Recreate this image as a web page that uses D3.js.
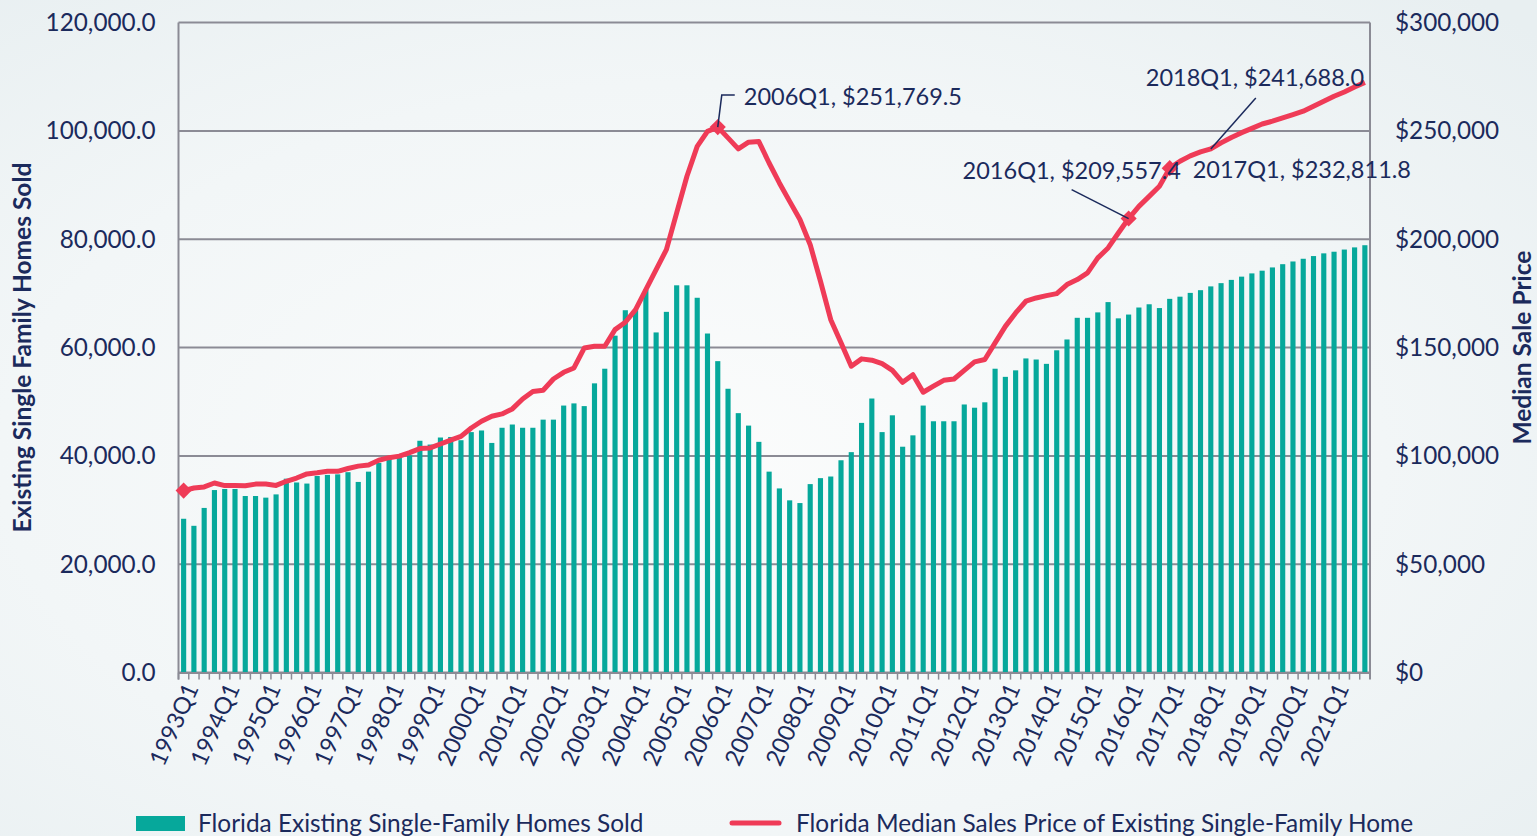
<!DOCTYPE html>
<html>
<head>
<meta charset="utf-8">
<script src="https://cdn.jsdelivr.net/npm/d3@7"></script>
<style>
  html, body { margin: 0; padding: 0; background: #f4f7f8; }
  svg { display: block; }
</style>
</head>
<body>
<div id="chart"></div>
<script>
"use strict";

// quarterly categories 1993Q1 .. 2021Q4
const years = d3.range(1993, 2022);
const quarters = years.flatMap(y => ["Q1", "Q2", "Q3", "Q4"].map(q => `${y}${q}`));

// Florida existing single-family homes sold (units)
const homesSold = [
  28400, 27100, 30400, 33700, 33900, 33900, 32600, 32600, 32300, 32900, 35800, 35100,
  34900, 36300, 36500, 36600, 37000, 35200, 37100, 38700, 39800, 39900, 40100, 42800,
  42100, 43400, 43500, 42900, 44400, 44700, 42400, 45200, 45800, 45200, 45200, 46700,
  46700, 49300, 49700, 49200, 53400, 56100, 62200, 66900, 67100, 70700, 62800, 66600,
  71500, 71500, 69200, 62600, 57500, 52400, 47900, 45600, 42600, 37100, 34000, 31800,
  31300, 34800, 35900, 36200, 39200, 40700, 46100, 50600, 44400, 47500, 41700, 43800,
  49300, 46400, 46400, 46400, 49500, 48900, 49900, 56100, 54600, 55800, 58000, 57800,
  57000, 59500, 61500, 65500, 65500, 66500, 68400, 65400, 66100, 67400, 68000, 67300,
  69000, 69400, 70100, 70600, 71300, 71900, 72500, 73100, 73700, 74200, 74800, 75400,
  75900, 76400, 76900, 77400, 77700, 78100, 78500, 78900
];

// Florida median sales price of existing single-family home ($)
const medianPrice = [
  84000, 85200, 85700, 87500, 86300, 86300, 86200, 87000, 87000, 86400, 88300, 89800,
  91700, 92200, 92900, 92900, 94200, 95300, 95800, 98000, 99200, 99900, 101500, 103400,
  103700, 105500, 107300, 109000, 112900, 116000, 118300, 119400, 121700, 126300, 129700, 130300,
  135500, 138600, 140600, 149800, 150600, 150600, 158300, 161700, 167500, 176800, 186000, 195200,
  212200, 229100, 242900, 249800, 251769.5, 246800, 241700, 244800, 245100, 235200, 226000, 217500,
  209100, 197500, 180600, 162900, 152200, 141400, 144800, 144200, 142600, 139500, 134000, 137500,
  129400, 132200, 134900, 135500, 139500, 143400, 144500, 152200, 159800, 166000, 171400, 172900,
  174000, 174900, 179100, 181400, 184500, 191400, 196000, 202900, 209557.4, 215200, 219800, 224500,
  232811.8, 236000, 238500, 240300, 241688.0, 244500, 247000, 249200, 251200, 253200, 254500, 256000,
  257500, 259100, 261400, 263700, 266000, 268000, 270300, 272400
];

const leftTicks = [0, 20000, 40000, 60000, 80000, 100000, 120000];
const rightTicks = [0, 50000, 100000, 150000, 200000, 250000, 300000];
const markedQuarters = ["1993Q1", "2006Q1", "2016Q1", "2017Q1"];
const labelledQuarters = ["2006Q1", "2016Q1", "2017Q1", "2018Q1"];

const seriesNames = ["Florida Existing Single-Family Homes Sold",
                     "Florida Median Sales Price of Existing Single-Family Home"];

const width = 1537, height = 836;
const font = "Lato, 'Open Sans', sans-serif";
const navy = "#1b2a5c";
const teal = "#06a89b";
const red = "#ef3b57";
const gridColor = "#8b8b95";

const plot = {left: 178.5, right: 1370, top: 22.6, bottom: 672.6};

const svg = d3.select("#chart").append("svg")
    .attr("width", width)
    .attr("height", height)
    .style("font-family", font);

// soft background
const defs = svg.append("defs");
const bg = defs.append("radialGradient").attr("id", "bg")
    .attr("cx", "0.45").attr("cy", "0.55").attr("r", "0.75");
bg.append("stop").attr("offset", "0").attr("stop-color", "#fbfcfc");
bg.append("stop").attr("offset", "0.6").attr("stop-color", "#f2f6f7");
bg.append("stop").attr("offset", "1").attr("stop-color", "#e8eff1");
svg.append("rect").attr("width", width).attr("height", height).attr("fill", "url(#bg)");

const x = d3.scaleBand()
    .domain(quarters)
    .range([plot.left, plot.right])
    .paddingInner(0.5)
    .paddingOuter(0.25);

const y = d3.scaleLinear().domain([0, 120000]).range([plot.bottom, plot.top]);
const y2 = d3.scaleLinear().domain([0, 300000]).range([plot.bottom, plot.top]);

const cx = q => x(q) + x.bandwidth() / 2;

// gridlines
svg.append("g")
    .selectAll("line")
    .data(leftTicks)
    .join("line")
      .attr("x1", plot.left)
      .attr("x2", plot.right)
      .attr("y1", d => y(d))
      .attr("y2", d => y(d))
      .attr("stroke", gridColor)
      .attr("stroke-width", 2);

// left & right frame lines
svg.append("g")
    .selectAll("line")
    .data([plot.left, plot.right])
    .join("line")
      .attr("x1", d => d).attr("x2", d => d)
      .attr("y1", plot.top).attr("y2", plot.bottom + 7)
      .attr("stroke", gridColor)
      .attr("stroke-width", 2);

// left axis
const leftAxis = svg.append("g")
    .attr("transform", `translate(${plot.left},0)`)
    .call(d3.axisLeft(y).tickValues(leftTicks).tickFormat(d3.format(",.1f")).tickSize(0).tickPadding(23));
leftAxis.select(".domain").remove();
leftAxis.selectAll("text")
    .attr("fill", navy)
    .style("font-size", "24.3px")
    .style("font-family", font);

// right axis
const rightAxis = svg.append("g")
    .attr("transform", `translate(${plot.right},0)`)
    .call(d3.axisRight(y2).tickValues(rightTicks).tickFormat(d => "$" + d3.format(",")(d)).tickSize(0).tickPadding(25));
rightAxis.select(".domain").remove();
rightAxis.selectAll("text")
    .attr("fill", navy)
    .style("font-size", "24.3px")
    .style("font-family", font);

// bars
svg.append("g")
    .selectAll("rect")
    .data(quarters)
    .join("rect")
      .attr("x", d => x(d))
      .attr("width", x.bandwidth())
      .attr("y", (d, i) => y(homesSold[i]))
      .attr("height", (d, i) => y(0) - y(homesSold[i]))
      .attr("fill", teal);

// x axis with quarter ticks
const bottomAxis = svg.append("g")
    .attr("transform", `translate(0,${plot.bottom})`)
    .call(d3.axisBottom(x).tickSizeOuter(0).tickSizeInner(0).tickFormat(""));
bottomAxis.select(".domain").attr("stroke", gridColor).attr("stroke-width", 2);
bottomAxis.selectAll(".tick").remove();

svg.append("g")
    .selectAll("line")
    .data(quarters)
    .join("line")
      .attr("x1", d => cx(d) - x.step() / 2)
      .attr("x2", d => cx(d) - x.step() / 2)
      .attr("y1", plot.bottom)
      .attr("y2", plot.bottom + 7)
      .attr("stroke", gridColor)
      .attr("stroke-width", 1.5);

// rotated Q1 labels
svg.append("g")
    .selectAll("text")
    .data(quarters.filter(q => q.endsWith("Q1")))
    .join("text")
      .attr("transform", d => `translate(${cx(d) + 8},${plot.bottom + 12}) rotate(-66)`)
      .attr("text-anchor", "end")
      .attr("dy", "0.35em")
      .attr("fill", navy)
      .style("font-size", "23.5px")
      .text(d => d);

// price line
const line = d3.line()
    .x((d, i) => cx(quarters[i]))
    .y(d => y2(d));

svg.append("path")
    .datum(medianPrice)
    .attr("d", line)
    .attr("fill", "none")
    .attr("stroke", red)
    .attr("stroke-width", 5)
    .attr("stroke-linejoin", "round");

// diamond markers
svg.append("g")
    .selectAll("path")
    .data(markedQuarters)
    .join("path")
      .attr("d", d3.symbol(d3.symbolSquare, 130))
      .attr("transform", d => `translate(${cx(d)},${y2(medianPrice[quarters.indexOf(d)])}) rotate(45)`)
      .attr("fill", red);

// data labels
const fmtPrice = v => "$" + d3.format(",.1f")(v);
const labelOffsets = {
  "2006Q1": {tx: 26, ty: -22, leader: [[0, 0], [4, -32], [17, -32]]},
  "2016Q1": {tx: -166, ty: -40, leader: [[0, 0], [-57, -29]]},
  "2017Q1": {tx: 23, ty: 10, leader: null},
  "2018Q1": {tx: -65, ty: -63, leader: [[0, 0], [45, -51]]}
};

const labels = svg.append("g");
labelledQuarters.forEach(q => {
  const i = quarters.indexOf(q);
  const px = cx(q), py = y2(medianPrice[i]);
  const o = labelOffsets[q];
  if (o.leader) {
    labels.append("path")
      .attr("d", d3.line()(o.leader.map(([a, b]) => [px + a, py + b])))
      .attr("fill", "none")
      .attr("stroke", navy)
      .attr("stroke-width", 1.5);
  }
  labels.append("text")
    .attr("x", px + o.tx)
    .attr("y", py + o.ty)
    .attr("fill", navy)
    .style("font-size", "23.5px")
    .text(`${q}, ${fmtPrice(medianPrice[i])}`);
});

// axis titles
svg.append("text")
    .attr("transform", `translate(31,${(plot.top + plot.bottom) / 2}) rotate(-90)`)
    .attr("text-anchor", "middle")
    .attr("fill", navy)
    .style("font-size", "24.5px")
    .style("font-weight", "bold")
    .text("Existing Single Family Homes Sold");

svg.append("text")
    .attr("transform", `translate(1531,${(plot.top + plot.bottom) / 2}) rotate(-90)`)
    .attr("text-anchor", "middle")
    .attr("fill", navy)
    .style("font-size", "24.5px")
    .style("font-weight", "bold")
    .text("Median Sale Price");

// legend
const legend = svg.append("g");
legend.append("rect")
    .attr("x", 136).attr("y", 816)
    .attr("width", 49).attr("height", 15)
    .attr("fill", teal);
legend.append("text")
    .attr("x", 198).attr("y", 832)
    .attr("fill", navy)
    .style("font-size", "24.4px")
    .text(seriesNames[0]);
legend.append("line")
    .attr("x1", 732).attr("x2", 779)
    .attr("y1", 823).attr("y2", 823)
    .attr("stroke", red)
    .attr("stroke-width", 5)
    .attr("stroke-linecap", "round");
legend.append("text")
    .attr("x", 796).attr("y", 832)
    .attr("fill", navy)
    .style("font-size", "24.4px")
    .text(seriesNames[1]);
</script>
</body>
</html>
